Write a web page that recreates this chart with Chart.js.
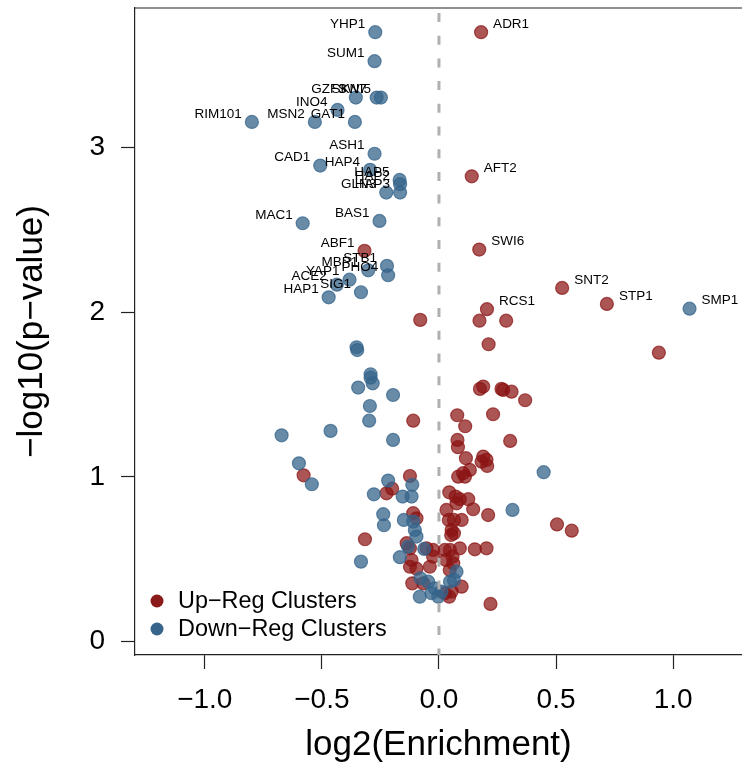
<!DOCTYPE html>
<html>
<head>
<meta charset="utf-8">
<script src="https://cdn.jsdelivr.net/npm/chart.js@4/dist/chart.umd.min.js"></script>
<style>
  html, body { margin: 0; padding: 0; background: #fff; overflow: hidden; }
  #wrap { width: 742px; height: 772px; position: relative; }
</style>
</head>
<body>
<div id="wrap"><canvas id="volcano"></canvas></div>
<script>
// up-regulated clusters (red)
const upEnrich = [0.180, 0.140, 0.172, 0.526, 0.717, 0.205, -0.318,
  -0.080, 0.173, 0.287, 0.212, 0.939, 0.175, 0.189, 0.267, 0.274, 0.310, 0.368,
  0.078, 0.231, 0.112, -0.110, 0.079, 0.081, 0.304, 0.115, 0.189, 0.203, 0.206,
  0.182, 0.132, 0.103, 0.082, 0.111, -0.578, -0.124, -0.200, -0.224, 0.044,
  0.071, 0.089, 0.125, 0.075, 0.146, 0.210, -0.096, -0.110, 0.032, 0.042, 0.064,
  0.097, 0.054, 0.064, 0.052, -0.316, -0.138, -0.124, -0.053, -0.025, -0.025,
  -0.117, -0.124, -0.096, -0.039, 0.025, 0.047, 0.089, 0.058, 0.153, 0.203,
  0.029, 0.061, 0.046, -0.114, -0.067, 0.054, 0.097, 0.025, 0.044, 0.220,
  0.504, 0.567];
const upNegLogP = [3.701, 2.826, 2.381, 2.148, 2.051, 2.019, 2.373,
  1.954, 1.949, 1.949, 1.806, 1.755, 1.535, 1.549, 1.535, 1.529, 1.518, 1.466,
  1.375, 1.381, 1.308, 1.342, 1.225, 1.181, 1.219, 1.114, 1.124, 1.104, 1.067,
  1.093, 1.043, 1.023, 1.002, 1.002, 1.010, 1.006, 0.929, 0.901, 0.907,
  0.881, 0.865, 0.865, 0.840, 0.804, 0.769, 0.749, 0.780, 0.800, 0.739, 0.739,
  0.739, 0.678, 0.658, 0.648, 0.622, 0.598, 0.567, 0.567, 0.557, 0.516,
  0.496, 0.455, 0.443, 0.455, 0.557, 0.557, 0.567, 0.516, 0.561, 0.567,
  0.496, 0.476, 0.435, 0.354, 0.354, 0.304, 0.334, 0.294, 0.273, 0.229,
  0.712, 0.674];
const upNames = ['ADR1', 'AFT2', 'SWI6', 'SNT2', 'STP1', 'RCS1', 'ABF1'];

// down-regulated clusters (blue)
const downEnrich = [-0.272, -0.275, -0.355, -0.266, -0.248, -0.433, -0.799,
  -0.530, -0.359, -0.275, -0.507, -0.294, -0.168, -0.166, -0.225, -0.166,
  -0.582, -0.254, -0.222, -0.217, -0.302, -0.382, -0.436, -0.333, -0.471, 1.070,
  -0.352, -0.349, -0.292, -0.292, -0.283, -0.345, -0.196, -0.295, -0.298,
  -0.672, -0.463, -0.196, -0.598, -0.543, 0.447, -0.217, -0.114, -0.278,
  -0.155, -0.117, 0.314, -0.238, -0.235, -0.150, -0.110, -0.103, -0.096,
  -0.132, -0.167, -0.063, -0.333, 0.075, 0.064, 0.047, -0.079, -0.046,
  -0.018, 0.011, -0.032, -0.082, -0.003];
const downNegLogP = [3.701, 3.525, 3.304, 3.304, 3.304, 3.229, 3.156,
  3.156, 3.156, 2.963, 2.891, 2.865, 2.804, 2.778, 2.727, 2.727,
  2.541, 2.555, 2.282, 2.225, 2.255, 2.198, 2.168, 2.122, 2.091, 2.022,
  1.788, 1.771, 1.624, 1.603, 1.569, 1.543, 1.498, 1.431, 1.342,
  1.253, 1.280, 1.225, 1.083, 0.956, 1.029, 0.978, 0.953, 0.895,
  0.881, 0.881, 0.800, 0.774, 0.707, 0.739, 0.729, 0.678, 0.638,
  0.577, 0.513, 0.563, 0.486, 0.425, 0.375, 0.364, 0.385, 0.364,
  0.324, 0.304, 0.294, 0.273, 0.273];
const downNames = ['YHP1', 'SUM1', 'GZF3', 'SKN7', 'SWI5', 'INO4', 'RIM101',
  'MSN2', 'GAT1', 'ASH1', 'CAD1', 'HAP4', 'HAP5', 'HAP2', 'GLN3', 'HAP3',
  'MAC1', 'BAS1', 'STB1', 'PHO4', 'MBP1', 'YAP1', 'ACE2', 'SIG1', 'HAP1', 'SMP1'];

const xTicks = [-1.0, -0.5, 0.0, 0.5, 1.0];
const yTicks = [0, 1, 2, 3];
const xRange = [-1.298, 1.294];
const yRange = [-0.081, 3.848];
const seriesNames = ['Up\u2212Reg Clusters', 'Down\u2212Reg Clusters'];

const FONT = "'Liberation Sans', Arial, Helvetica, sans-serif";
const RED = 'rgba(139,20,20,0.72)';
const BLUE = 'rgba(54,100,139,0.75)';

const toPoints = (xs, ys) => xs.map((x, i) => ({ x: x, y: ys[i] }));

const fmtTick = (v) => (v < 0 ? '\u2212' : '') + Math.abs(v).toFixed(1);

// top edge of the box (R-style frame, right side falls off the page)
const frameTop = {
  id: 'frameTop',
  afterDraw(chart) {
    const { ctx, chartArea } = chart;
    ctx.save();
    ctx.strokeStyle = '#222';
    ctx.lineWidth = 1.2;
    ctx.beginPath();
    ctx.moveTo(chartArea.left, chartArea.top);
    ctx.lineTo(chartArea.right, chartArea.top);
    ctx.stroke();
    ctx.restore();
  }
};

// gene labels beside the named points
const pointLabels = {
  id: 'pointLabels',
  afterDatasetsDraw(chart) {
    const { ctx } = chart;
    const xs = chart.scales.x, ys = chart.scales.y;
    ctx.save();
    ctx.font = '13.5px ' + FONT;
    ctx.fillStyle = '#000';
    ctx.textBaseline = 'middle';
    const put = (ex, ny, names) => {
      names.forEach((name, i) => {
        const px = xs.getPixelForValue(ex[i]);
        const py = ys.getPixelForValue(ny[i]);
        if (ex[i] < 0) {
          ctx.textAlign = 'right';
          ctx.fillText(name, px - 10, py - 8);
        } else {
          ctx.textAlign = 'left';
          ctx.fillText(name, px + 12, py - 8);
        }
      });
    };
    put(upEnrich, upNegLogP, upNames);
    put(downEnrich, downNegLogP, downNames);
    ctx.restore();
  }
};

// legend in the bottom-left corner of the plot
const cornerLegend = {
  id: 'cornerLegend',
  afterDraw(chart) {
    const { ctx, chartArea } = chart;
    const colors = ['#8b1a1a', '#36648b'];
    ctx.save();
    ctx.font = '23.4px ' + FONT;
    ctx.textBaseline = 'middle';
    ctx.textAlign = 'left';
    seriesNames.forEach((name, i) => {
      const cy = chartArea.bottom - 54 + i * 28;
      ctx.fillStyle = colors[i];
      ctx.beginPath();
      ctx.arc(chartArea.left + 22, cy, 6.5, 0, Math.PI * 2);
      ctx.fill();
      ctx.fillStyle = '#000';
      ctx.fillText(name, chartArea.left + 43, cy + 1);
    });
    ctx.restore();
  }
};

const ctx = document.getElementById('volcano').getContext('2d');
new Chart(ctx, {
  type: 'scatter',
  data: {
    datasets: [
      {
        type: 'line',
        label: 'zero',
        data: [{ x: 0, y: yRange[1] }, { x: 0, y: yRange[0] }],
        borderColor: '#b0b0b0',
        borderWidth: 3,
        borderDash: [9, 13.7],
        borderDashOffset: 17.7,
        pointRadius: 0,
        order: 0
      },
      {
        label: seriesNames[0],
        data: toPoints(upEnrich, upNegLogP),
        backgroundColor: RED,
        borderColor: RED,
        borderWidth: 1.2,
        pointRadius: 6.5,
        order: 2
      },
      {
        label: seriesNames[1],
        data: toPoints(downEnrich, downNegLogP),
        backgroundColor: BLUE,
        borderColor: BLUE,
        borderWidth: 1.2,
        pointRadius: 6.5,
        order: 1
      }
    ]
  },
  options: {
    responsive: true,
    maintainAspectRatio: false,
    animation: false,
    layout: { autoPadding: false, padding: { top: 8, left: 0, right: 0, bottom: 0 } },
    plugins: {
      legend: { display: false },
      tooltip: { enabled: false }
    },
    scales: {
      x: {
        type: 'linear',
        min: xRange[0],
        max: xRange[1],
        afterFit: (s) => {
          s.height = 117;
          s.paddingLeft = 0;
          s.paddingRight = 0;
        },
        afterBuildTicks: (s) => { s.ticks = xTicks.map(v => ({ value: v })); },
        grid: { drawOnChartArea: false, drawTicks: true, tickLength: 14, tickColor: '#222', tickWidth: 1.2 },
        border: { display: true, color: '#222', width: 1.2 },
        ticks: {
          color: '#000',
          font: { family: FONT, size: 28 },
          padding: 14,
          maxRotation: 0,
          callback: (v) => fmtTick(v)
        },
        title: {
          display: true,
          text: 'log2(Enrichment)',
          color: '#000',
          font: { family: FONT, size: 35 },
          padding: { top: 0, bottom: 6 }
        }
      },
      y: {
        type: 'linear',
        min: yRange[0],
        max: yRange[1],
        afterFit: (s) => {
          s.width = 135;
          s.paddingTop = 0;
          s.paddingBottom = 0;
        },
        afterBuildTicks: (s) => { s.ticks = yTicks.map(v => ({ value: v })); },
        grid: { drawOnChartArea: false, drawTicks: true, tickLength: 14, tickColor: '#222', tickWidth: 1.2 },
        border: { display: true, color: '#222', width: 1.2 },
        ticks: {
          color: '#000',
          font: { family: FONT, size: 28 },
          padding: 16,
          callback: (v) => String(v)
        },
        title: {
          display: true,
          text: '\u2212log10(p\u2212value)',
          color: '#000',
          font: { family: FONT, size: 35 },
          padding: { top: 11, bottom: 0 }
        }
      }
    }
  },
  plugins: [frameTop, pointLabels, cornerLegend]
});
</script>
</body>
</html>
